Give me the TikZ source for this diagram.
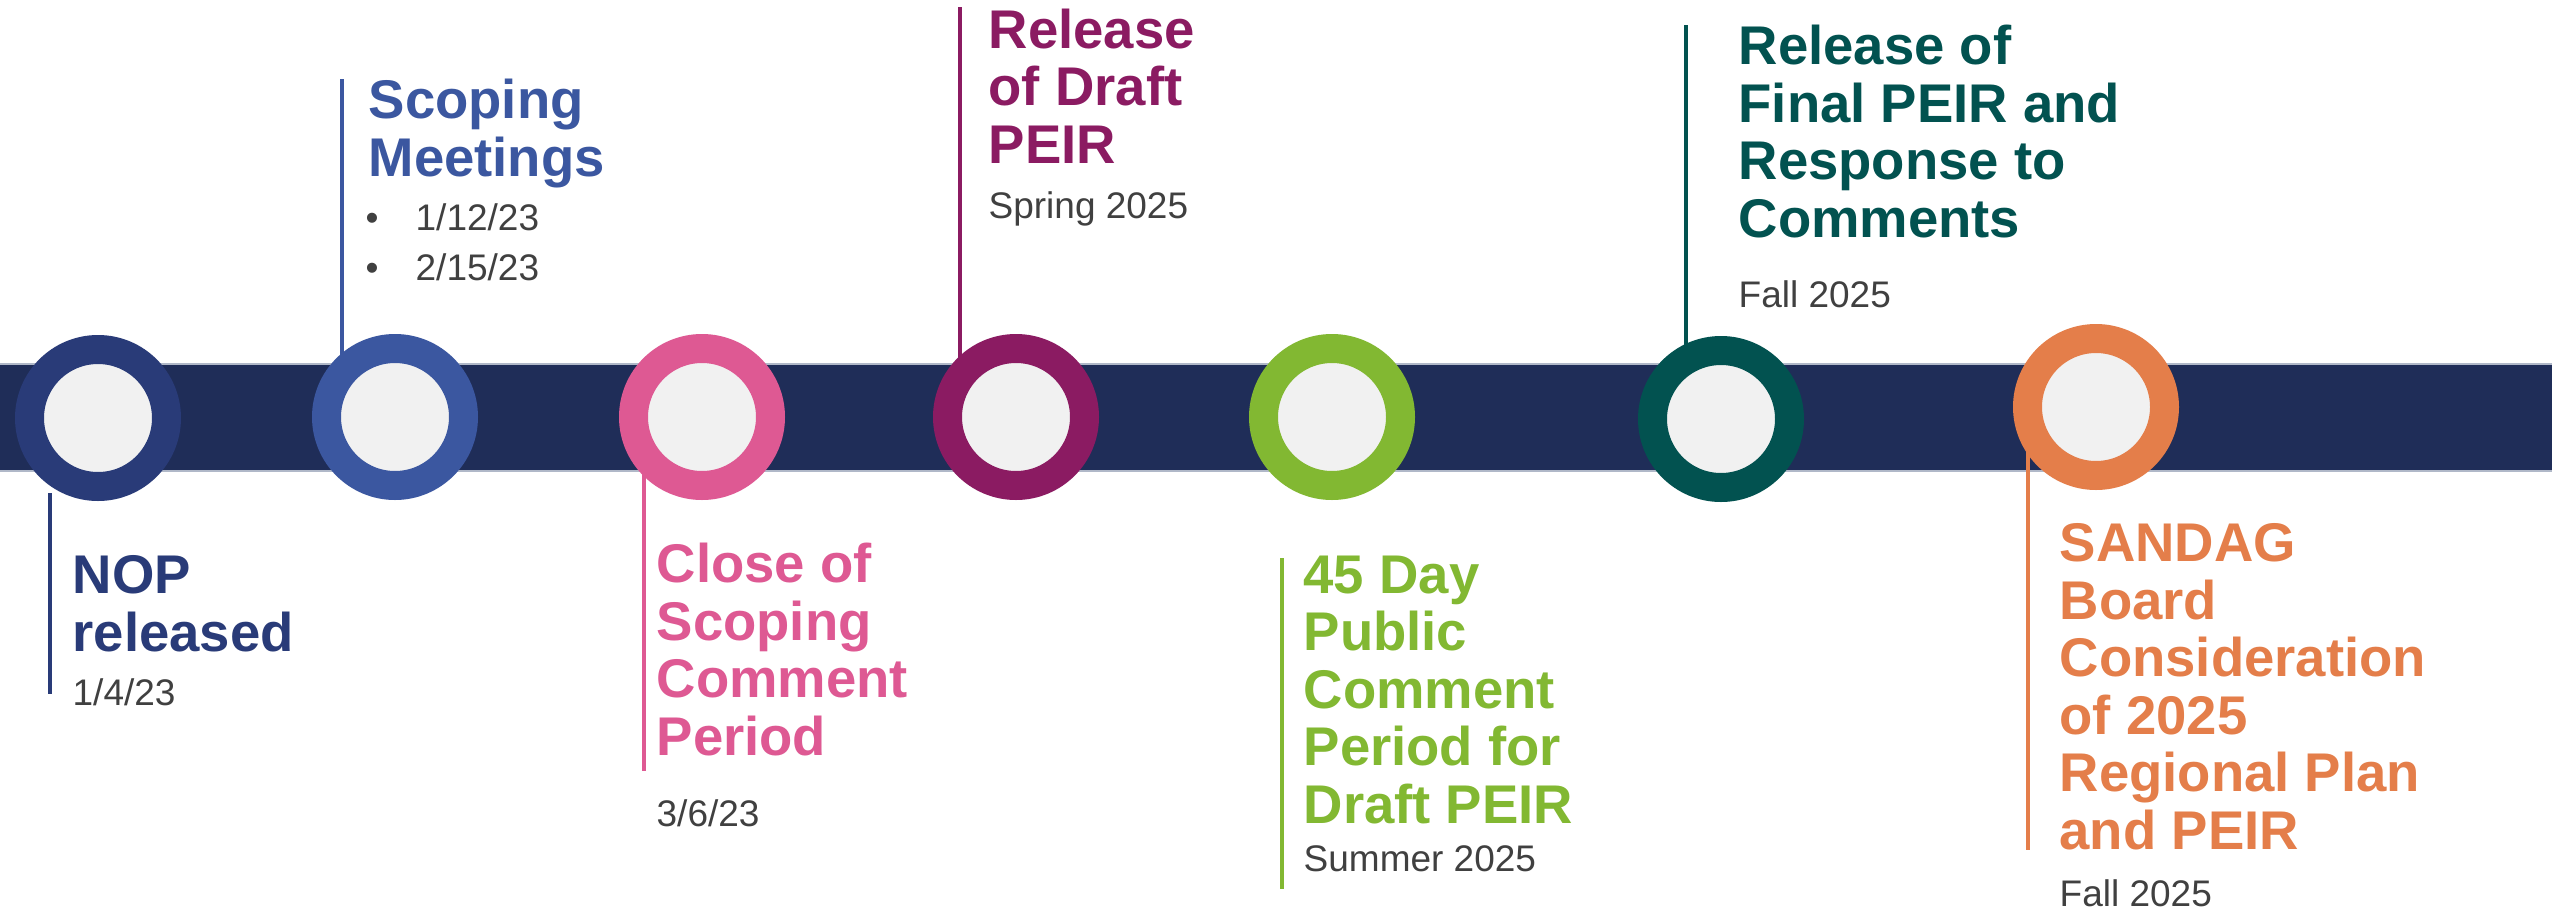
\documentclass[tikz,border=0pt]{standalone}
\usepackage{fontspec}
\setmainfont{Liberation Sans}
\definecolor{bandc}{RGB}{31,45,88}
\definecolor{navyc}{RGB}{41,59,120}
\definecolor{bluec}{RGB}{59,87,160}
\definecolor{pinkc}{RGB}{222,89,147}
\definecolor{purplec}{RGB}{139,27,98}
\definecolor{greenc}{RGB}{130,184,50}
\definecolor{tealc}{RGB}{2,82,80}
\definecolor{orangec}{RGB}{228,126,74}
\definecolor{innerc}{RGB}{241,241,241}
\definecolor{grayc}{RGB}{64,64,64}
\definecolor{edgec}{RGB}{176,184,200}
\begin{document}
\begin{tikzpicture}[x=0.3pt,y=-0.3pt,
  ring/.style={circle, inner sep=0pt, minimum size=41.1pt, line width=8.7pt, fill=innerc, draw=#1},
  title/.style={anchor=base west, inner sep=0pt, align=left, text=#1,
    font=\fontsize{16.35}{17.25}\selectfont\bfseries},
  datetxt/.style={anchor=base west, inner sep=0pt, text=grayc,
    font=\fontsize{11.1}{15}\selectfont},
  rulel/.style={line width=1.05pt, draw=#1}]
\useasboundingbox (0,0) rectangle (2552,913);
\fill[white] (0,0) rectangle (2552,913);
% band
\fill[bandc] (0,364) rectangle (2552,471);
\draw[edgec, line width=0.35pt] (0,364) -- (2552,364) (0,471) -- (2552,471);
% rule coordinates
\coordinate (l1a) at (50,493);   \coordinate (l1b) at (50,694);
\coordinate (l2a) at (342,79);   \coordinate (l2b) at (342,400);
\coordinate (l3a) at (644,472);  \coordinate (l3b) at (644,771);
\coordinate (l4a) at (960,7);    \coordinate (l4b) at (960,400);
\coordinate (l5a) at (1282,558); \coordinate (l5b) at (1282,889);
\coordinate (l6a) at (1686,25);  \coordinate (l6b) at (1686,400);
\coordinate (l7a) at (2028,420); \coordinate (l7b) at (2028,850);
\draw[rulel=navyc] (l1a) -- (l1b);
\draw[rulel=bluec] (l2a) -- (l2b);
\draw[rulel=pinkc] (l3a) -- (l3b);
\draw[rulel=purplec] (l4a) -- (l4b);
\draw[rulel=greenc] (l5a) -- (l5b);
\draw[rulel=tealc] (l6a) -- (l6b);
\draw[rulel=orangec] (l7a) -- (l7b);
% circles
\node[ring=navyc] (c1) at (98,418) {};
\node[ring=bluec] (c2) at (395,417) {};
\node[ring=pinkc] (c3) at (702,417) {};
\node[ring=purplec] (c4) at (1016,417) {};
\node[ring=greenc] (c5) at (1332,417) {};
\node[ring=tealc] (c6) at (1721,419) {};
\node[ring=orangec] (c7) at (2096,407) {};
% texts (anchored at baseline of last line)
\node[title=navyc] (t1) at (72,651) {NOP\\released};
\node[datetxt] (d1) at (72,705) {1/4/23};
\node[title=bluec] (t2) at (368,176) {Scoping\\Meetings};
\node[datetxt] (b2a) at (365,230) {•};
\node[datetxt] (d2a) at (415,230) {1/12/23};
\node[datetxt] (b2b) at (365,280) {•};
\node[datetxt] (d2b) at (415,280) {2/15/23};
\node[title=pinkc] (t3) at (656,755) {Close of\\Scoping\\Comment\\Period};
\node[datetxt] (d3) at (656,826) {3/6/23};
\node[title=purplec] (t4) at (988,163) {Release\\of Draft\\PEIR};
\node[datetxt] (d4) at (988,218) {Spring 2025};
\node[title=greenc] (t5) at (1303,823) {45 Day\\Public\\Comment\\Period for\\Draft PEIR};
\node[datetxt] (d5) at (1303,871) {Summer 2025};
\node[title=tealc] (t6) at (1738,237) {Release of\\Final PEIR and\\Response to\\Comments};
\node[datetxt] (d6) at (1738,307) {Fall 2025};
\node[title=orangec] (t7) at (2059,849) {SANDAG\\Board\\Consideration\\of 2025\\Regional Plan\\and PEIR};
\node[datetxt] (d7) at (2059,906) {Fall 2025};
\end{tikzpicture}
\end{document}
